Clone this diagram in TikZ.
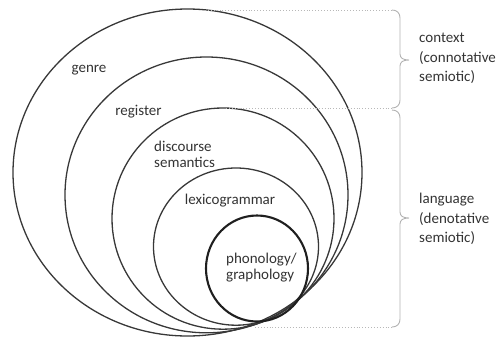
\documentclass[tikz,border=0pt]{standalone}
\usepackage{fontspec}
\setmainfont{Carlito}
\begin{document}
\begin{tikzpicture}[x=1pt,y=-1pt,
  ring/.style={draw=black!78, line width=1.3pt},
  innerring/.style={draw=black!88, line width=2.1pt},
  lbl/.style={font=\fontsize{15}{16}\selectfont, text=black!80, inner sep=0pt, align=left},
  sidelbl/.style={font=\fontsize{15}{19.5}\selectfont, text=black!80, inner sep=0pt, align=left, anchor=west},
  bracel/.style={draw=black!30, line width=0.9pt},
  guide/.style={draw=black!28, line width=0.9pt, dotted}]
\useasboundingbox (0,0) rectangle (501,338);

% nested rings
\draw[ring] (187.5,172.5) ellipse [x radius=174.5pt, y radius=163.5pt];
\draw[ring] (206.5,194.9) ellipse [x radius=141.5pt, y radius=137.9pt];
\draw[ring] (223,218.6) ellipse [x radius=111pt, y radius=110.6pt];
\draw[ring] (236,246.6) ellipse [x radius=82.5pt, y radius=78.6pt];
\draw[innerring] (257,268.5) ellipse [x radius=51pt, y radius=53pt];

% labels
\node[lbl] (genre) at (89,70) {genre};
\node[lbl] (register) at (138.5,112) {register};
\node[lbl, anchor=west] (disc) at (154,154) {discourse\\semantics};
\node[lbl] (lex) at (230,201) {lexicogrammar};
\node[lbl, anchor=west] (phon) at (226,268) {phonology/\\graphology};

% context brace
\coordinate (c1) at (392,10);
\coordinate (c2) at (392,108);
\coordinate (c1e) at (205,10);
\coordinate (c2e) at (226,108);
\draw[guide] (c1e) -- (c1);
\draw[guide] (c2e) -- (c2);
\draw[bracel] (c1) .. controls (397,10) and (400,13) .. (400,18) -- (400,54)
  .. controls (400,58) and (403,60) .. (409,60)
  .. controls (403,60) and (400,62) .. (400,66) -- (400,100)
  .. controls (400,105) and (397,108) .. (c2);

% language brace
\coordinate (l1) at (392,110);
\coordinate (l2) at (392,327);
\coordinate (l2e) at (255,327);
\draw[guide] (l2e) -- (l2);
\draw[bracel] (l1) .. controls (397,110) and (400,113) .. (400,118) -- (400,212)
  .. controls (400,216) and (403,218) .. (409,218)
  .. controls (403,218) and (400,220) .. (400,224) -- (400,319)
  .. controls (400,324) and (397,327) .. (l2);

\node[sidelbl] (context) at (419,58.5) {context\\(connotative\\semiotic)};
\node[sidelbl] (language) at (419,219) {language\\(denotative\\semiotic)};
\end{tikzpicture}
\end{document}
